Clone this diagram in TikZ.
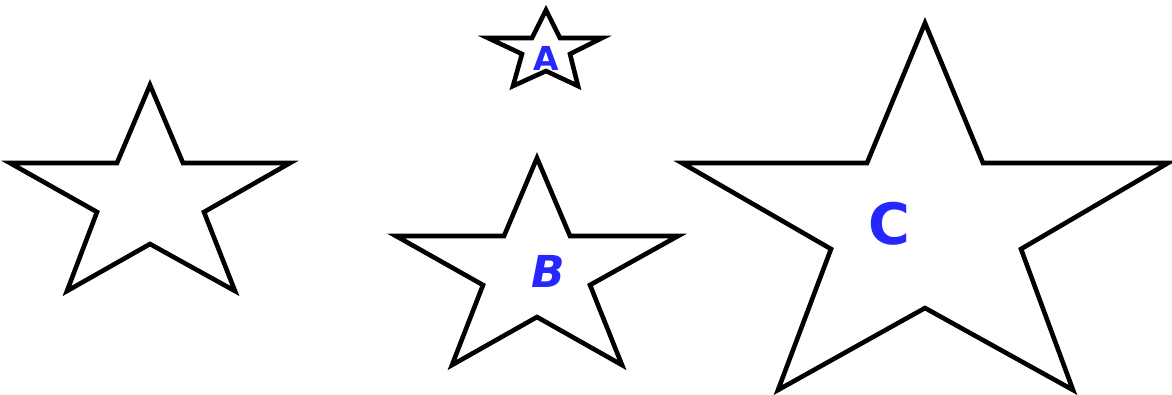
\documentclass[tikz,border=0pt]{standalone}
\usepackage{fontspec}
\setsansfont{DejaVu Sans}
\begin{document}
\begin{tikzpicture}[x=1pt,y=-1pt,
  starline/.style={draw=black,line width=4.6pt,line join=miter},
  lbl/.style={text=blue!85!white,inner sep=0pt}]
\useasboundingbox (0,0) rectangle (1172,394);
% star 1
\draw[starline] (150,85) -- (183,163) -- (290,163) -- (204,212) -- (235,291) -- (150,244) -- (67,291) -- (97,212) -- (10,163) -- (117,163) -- cycle;
% star A
\draw[starline] (546,10) -- (560,38) -- (602,38) -- (570,54) -- (578,86) -- (546,71) -- (513,86) -- (522,54) -- (488,38) -- (532,38) -- cycle;
% star B
\draw[starline] (537,158) -- (570,236) -- (678,236) -- (590,285) -- (622,365) -- (537,317) -- (452,365) -- (483,285) -- (396,236) -- (504,236) -- cycle;
% star C
\draw[starline] (925,23) -- (983,163) -- (1168,163) -- (1021,249) -- (1073,390) -- (925,308) -- (778,390) -- (831,249) -- (682,163) -- (867,163) -- cycle;
\node[lbl,font=\sffamily\bfseries\fontsize{33}{33}\selectfont] (la) at (546,58) {A};
\node[lbl,font=\sffamily\bfseries\itshape\fontsize{44}{44}\selectfont] (lb) at (548,271) {B};
\node[lbl,font=\sffamily\bfseries\fontsize{57}{57}\selectfont] (lc) at (889,224) {C};
\end{tikzpicture}
\end{document}
